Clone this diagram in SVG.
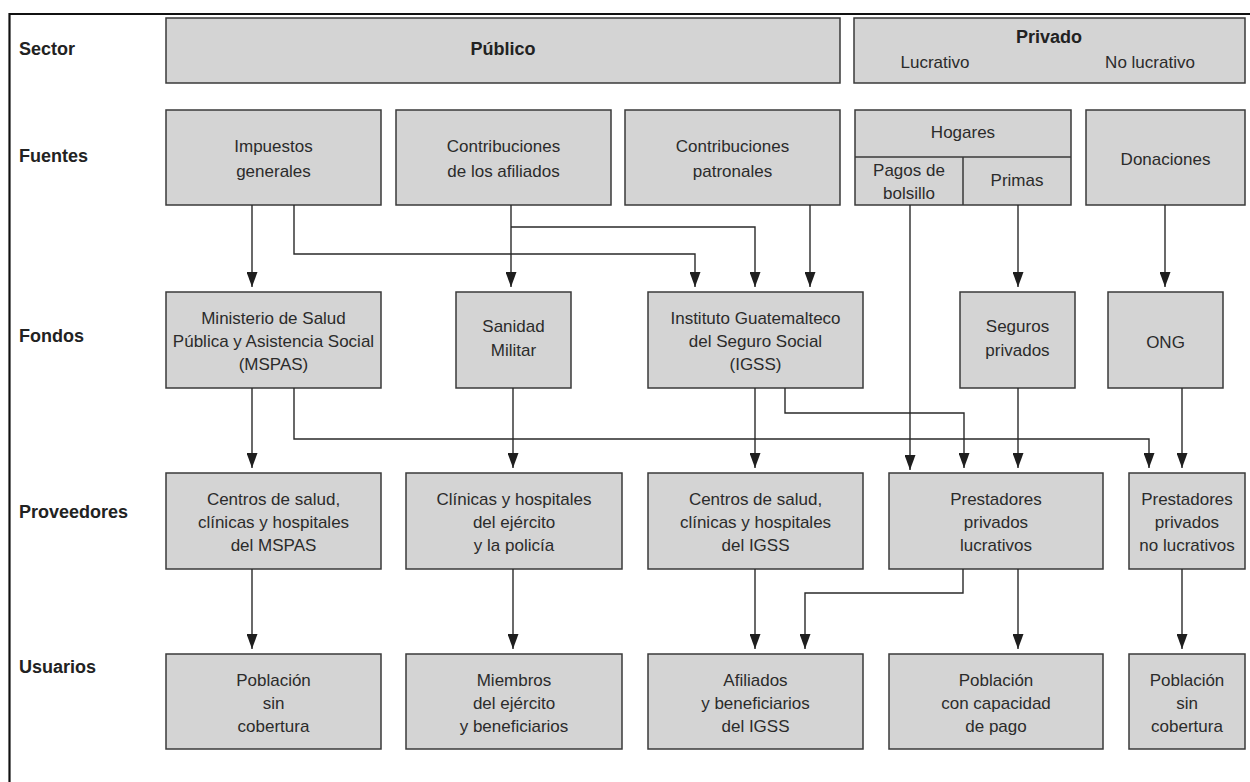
<svg xmlns="http://www.w3.org/2000/svg" width="1250" height="782" viewBox="0 0 1250 782">
<style>
.box{fill:#d4d4d4;stroke:#3a3a3a;stroke-width:1.5}
.div{fill:none;stroke:#3a3a3a;stroke-width:1.5}
.t{font-family:"Liberation Sans",Arial,sans-serif;font-size:17px;fill:#2b2b2b;text-anchor:middle}
.b{font-family:"Liberation Sans",Arial,sans-serif;font-size:18px;font-weight:bold;fill:#222}
.bc{font-family:"Liberation Sans",Arial,sans-serif;font-size:18px;font-weight:bold;fill:#222;text-anchor:middle}
.conn{fill:none;stroke:#2a2a2a;stroke-width:1.4;marker-end:url(#arr)}
.link{fill:none;stroke:#2a2a2a;stroke-width:1.4}
.frame{fill:none;stroke:#111;stroke-width:2.2}
</style>
<defs>
<marker id="arr" viewBox="0 0 15 11" refX="15" refY="5.5" markerWidth="15" markerHeight="11" markerUnits="userSpaceOnUse" orient="auto">
<path d="M0,0 L15,5.5 L0,11 z" fill="#1e1e1e"/>
</marker>
</defs>
<rect width="1250" height="782" fill="#ffffff"/>
<path class="frame" d="M9.5,782 V14 H1250"/>

<g id="row-labels">
<text class="b" x="19" y="55">Sector</text>
<text class="b" x="19" y="162">Fuentes</text>
<text class="b" x="19" y="342">Fondos</text>
<text class="b" x="19" y="518">Proveedores</text>
<text class="b" x="19" y="673">Usuarios</text>
</g>

<g id="sector-publico">
<rect class="box" x="166" y="18" width="674" height="65"/>
<text class="bc" x="503" y="55">Público</text>
</g>
<g id="sector-privado">
<rect class="box" x="854" y="18" width="391" height="65"/>
<text class="bc" x="1049" y="43">Privado</text>
<text class="t" x="935" y="68">Lucrativo</text>
<text class="t" x="1150" y="68">No lucrativo</text>
</g>

<g id="impuestos">
<rect class="box" x="166" y="110" width="215" height="95"/>
<text class="t" x="273.5" y="152">Impuestos</text>
<text class="t" x="273.5" y="177">generales</text>
</g>
<g id="contrib-afiliados">
<rect class="box" x="396" y="110" width="215" height="95"/>
<text class="t" x="503.5" y="152">Contribuciones</text>
<text class="t" x="503.5" y="177">de los afiliados</text>
</g>
<g id="contrib-patronales">
<rect class="box" x="625" y="110" width="215" height="95"/>
<text class="t" x="732.5" y="152">Contribuciones</text>
<text class="t" x="732.5" y="177">patronales</text>
</g>
<g id="hogares">
<rect class="box" x="855" y="110" width="216" height="95"/>
<path class="div" d="M855,157 H1071 M963,157 V205"/>
<text class="t" x="963" y="138">Hogares</text>
<text class="t" x="909" y="176">Pagos de</text>
<text class="t" x="909" y="199">bolsillo</text>
<text class="t" x="1017" y="186">Primas</text>
</g>
<g id="donaciones">
<rect class="box" x="1086" y="110" width="159" height="95"/>
<text class="t" x="1165.5" y="165">Donaciones</text>
</g>

<g id="mspas">
<rect class="box" x="166" y="292" width="215" height="96"/>
<text class="t" x="273.5" y="324">Ministerio de Salud</text>
<text class="t" x="273.5" y="347">Pública y Asistencia Social</text>
<text class="t" x="273.5" y="370">(MSPAS)</text>
</g>
<g id="sanidad-militar">
<rect class="box" x="456" y="292" width="115" height="96"/>
<text class="t" x="513.5" y="332">Sanidad</text>
<text class="t" x="513.5" y="356">Militar</text>
</g>
<g id="igss">
<rect class="box" x="648" y="292" width="215" height="96"/>
<text class="t" x="755.5" y="324">Instituto Guatemalteco</text>
<text class="t" x="755.5" y="347">del Seguro Social</text>
<text class="t" x="755.5" y="370">(IGSS)</text>
</g>
<g id="seguros-privados">
<rect class="box" x="960" y="292" width="115" height="96"/>
<text class="t" x="1017.5" y="332">Seguros</text>
<text class="t" x="1017.5" y="356">privados</text>
</g>
<g id="ong">
<rect class="box" x="1108" y="292" width="115" height="96"/>
<text class="t" x="1165.5" y="348">ONG</text>
</g>

<g id="centros-mspas">
<rect class="box" x="166" y="473" width="215" height="96"/>
<text class="t" x="273.5" y="505">Centros de salud,</text>
<text class="t" x="273.5" y="528">clínicas y hospitales</text>
<text class="t" x="273.5" y="551">del MSPAS</text>
</g>
<g id="clinicas-ejercito">
<rect class="box" x="406" y="473" width="216" height="96"/>
<text class="t" x="514" y="505">Clínicas y hospitales</text>
<text class="t" x="514" y="528">del ejército</text>
<text class="t" x="514" y="551">y la policía</text>
</g>
<g id="centros-igss">
<rect class="box" x="648" y="473" width="215" height="96"/>
<text class="t" x="755.5" y="505">Centros de salud,</text>
<text class="t" x="755.5" y="528">clínicas y hospitales</text>
<text class="t" x="755.5" y="551">del IGSS</text>
</g>
<g id="prestadores-lucrativos">
<rect class="box" x="889" y="473" width="214" height="96"/>
<text class="t" x="996" y="505">Prestadores</text>
<text class="t" x="996" y="528">privados</text>
<text class="t" x="996" y="551">lucrativos</text>
</g>
<g id="prestadores-no-lucrativos">
<rect class="box" x="1129" y="473" width="116" height="96"/>
<text class="t" x="1187" y="505">Prestadores</text>
<text class="t" x="1187" y="528">privados</text>
<text class="t" x="1187" y="551">no lucrativos</text>
</g>

<g id="poblacion-sin-cobertura-1">
<rect class="box" x="166" y="654" width="215" height="95"/>
<text class="t" x="273.5" y="686">Población</text>
<text class="t" x="273.5" y="709">sin</text>
<text class="t" x="273.5" y="732">cobertura</text>
</g>
<g id="miembros-ejercito">
<rect class="box" x="406" y="654" width="216" height="95"/>
<text class="t" x="514" y="686">Miembros</text>
<text class="t" x="514" y="709">del ejército</text>
<text class="t" x="514" y="732">y beneficiarios</text>
</g>
<g id="afiliados-igss">
<rect class="box" x="648" y="654" width="215" height="95"/>
<text class="t" x="755.5" y="686">Afiliados</text>
<text class="t" x="755.5" y="709">y beneficiarios</text>
<text class="t" x="755.5" y="732">del IGSS</text>
</g>
<g id="poblacion-capacidad-pago">
<rect class="box" x="889" y="654" width="214" height="95"/>
<text class="t" x="996" y="686">Población</text>
<text class="t" x="996" y="709">con capacidad</text>
<text class="t" x="996" y="732">de pago</text>
</g>
<g id="poblacion-sin-cobertura-2">
<rect class="box" x="1129" y="654" width="116" height="95"/>
<text class="t" x="1187" y="686">Población</text>
<text class="t" x="1187" y="709">sin</text>
<text class="t" x="1187" y="732">cobertura</text>
</g>

<g id="connectors">
<path class="conn" d="M252,205 V287"/>
<path class="conn" d="M294,205 V254 H695 V287"/>
<path class="conn" d="M511,205 V287"/>
<path class="conn" d="M511,227 H755 V287"/>
<path class="conn" d="M810,205 V287"/>
<path class="conn" d="M910,205 V470"/>
<path class="conn" d="M1018,205 V287"/>
<path class="conn" d="M1165,205 V287"/>
<path class="conn" d="M252,388 V468"/>
<path class="conn" d="M294,388 V439 H1149 V468"/>
<path class="conn" d="M513,388 V468"/>
<path class="conn" d="M755,388 V468"/>
<path class="conn" d="M785,388 V413 H964 V468"/>
<path class="conn" d="M1018,388 V468"/>
<path class="conn" d="M1182,388 V468"/>
<path class="conn" d="M252,569 V649"/>
<path class="conn" d="M513,569 V649"/>
<path class="conn" d="M755,569 V649"/>
<path class="conn" d="M963,569 V593 H805 V649"/>
<path class="conn" d="M1018,569 V649"/>
<path class="conn" d="M1182,569 V649"/>
</g>
</svg>
